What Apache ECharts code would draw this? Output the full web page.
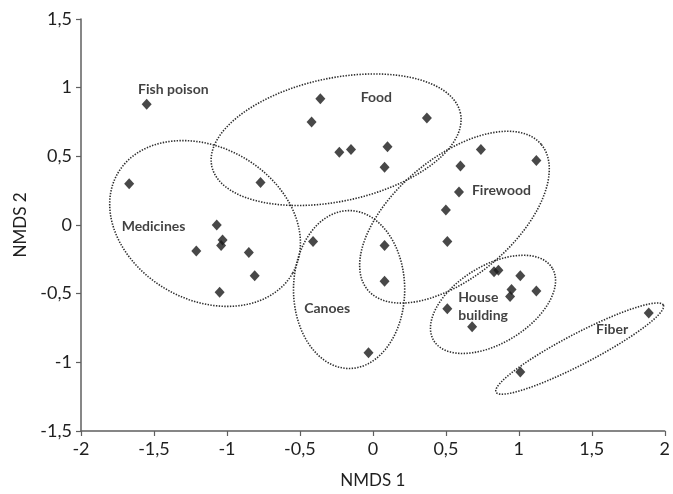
<!DOCTYPE html>
<html>
<head>
<meta charset="utf-8">
<script src="https://cdn.jsdelivr.net/npm/echarts@6/dist/echarts.min.js"></script>
<style>
html,body{margin:0;padding:0;background:#fff;}
#chart{width:673px;height:494px;}
</style>
</head>
<body>
<div id="chart"></div>
<script>
// ---- Data (NMDS scores of species, grouped by use category) ----
var fishPoison = [[-1.55, 0.88]];
var food = [[-0.36, 0.92], [-0.42, 0.75], [-0.23, 0.53], [-0.15, 0.55], [0.37, 0.78], [0.10, 0.57], [0.08, 0.42]];
var medicines = [[-1.67, 0.30], [-0.77, 0.31], [-1.07, 0.00], [-1.03, -0.11], [-1.04, -0.15], [-1.21, -0.19], [-0.85, -0.20], [-0.81, -0.37], [-1.05, -0.49]];
var canoes = [[-0.41, -0.12], [0.08, -0.15], [0.08, -0.41], [-0.03, -0.93]];
var firewood = [[0.74, 0.55], [1.12, 0.47], [0.60, 0.43], [0.59, 0.24], [0.50, 0.11], [0.51, -0.12]];
var houseBuilding = [[0.83, -0.34], [0.86, -0.33], [1.01, -0.37], [0.95, -0.47], [0.94, -0.52], [1.12, -0.48], [0.51, -0.61], [0.68, -0.74]];
var fiber = [[1.89, -0.64], [1.01, -1.07]];

// cluster outlines: [centerX, centerY, semiAxisA, semiAxisB (in NMDS 1 units), angle deg]
var clusterEllipses = [
  [-0.252, 0.621, 0.871, 0.422, 12],    // Food
  [-1.150, 0.011, 0.690, 0.523, -29.5], // Medicines
  [-0.163, -0.470, 0.381, 0.541, 0],    // Canoes
  [0.559, 0.057, 0.776, 0.408, 40],     // Firewood
  [0.823, -0.578, 0.476, 0.265, 31.6],  // House building
  [1.417, -0.900, 0.646, 0.105, 27.5]   // Fiber
];

// category labels: [name, x, y]
var clusterLabels = [
  ['Fish poison', -1.367, 0.99],
  ['Food', 0.024, 0.926],
  ['Medicines', -1.503, -0.014],
  ['Firewood', 0.881, 0.253],
  ['Canoes', -0.313, -0.61],
  ['House\nbuilding', 0.585, -0.596],
  ['Fiber', 1.639, -0.761]
];

var xTicks = {min: -2, max: 2, interval: 0.5};
var yTicks = {min: -1.5, max: 1.5, interval: 0.5};
var xName = 'NMDS 1';
var yName = 'NMDS 2';

// ---- Chart ----
var allPoints = [].concat(fishPoison, food, medicines, canoes, firewood, houseBuilding, fiber);
function fmt(v){ return String(v).replace('.', ','); }
var FONT = 'Lato, "Open Sans", sans-serif';

var chart = echarts.init(document.getElementById('chart'), null, {renderer: 'canvas'});
chart.setOption({
  animation: false,
  backgroundColor: '#fff',
  grid: {left: 81, right: 4, top: 19, bottom: 56, containLabel: false},
  xAxis: {
    type: 'value', min: xTicks.min, max: xTicks.max, interval: xTicks.interval,
    name: xName, nameLocation: 'middle', nameGap: 41,
    nameTextStyle: {fontFamily: FONT, fontSize: 17, color: '#1f1f1f'},
    axisLine: {onZero: false, lineStyle: {color: '#5f5f5f', width: 1.5}},
    axisTick: {show: true, inside: false, length: 5, lineStyle: {color: '#5f5f5f', width: 1.2}},
    axisLabel: {formatter: fmt, fontFamily: FONT, fontSize: 18, color: '#1f1f1f', margin: 9, showMinLabel: true, showMaxLabel: true, hideOverlap: false},
    splitLine: {show: false}
  },
  yAxis: {
    type: 'value', min: yTicks.min, max: yTicks.max, interval: yTicks.interval,
    name: yName, nameLocation: 'middle', nameGap: 51, nameRotate: 90,
    nameTextStyle: {fontFamily: FONT, fontSize: 17, color: '#1f1f1f'},
    axisLine: {onZero: false, lineStyle: {color: '#5f5f5f', width: 1.5}},
    axisTick: {show: true, inside: false, length: 5, lineStyle: {color: '#5f5f5f', width: 1.2}},
    axisLabel: {formatter: fmt, fontFamily: FONT, fontSize: 18, color: '#1f1f1f', margin: 9, showMinLabel: true, showMaxLabel: true},
    splitLine: {show: false}
  },
  series: [
    {
      type: 'custom',
      silent: true,
      z: 1,
      clip: false,
      data: clusterEllipses,
      encode: {x: 0, y: 1},
      renderItem: function (params, api) {
        var c = api.coord([api.value(0), api.value(1)]);
        var u = api.size([1, 1]);
        var a = api.value(2) * u[0], b = api.value(3) * u[0];
        var th = api.value(4) * Math.PI / 180;
        var pts = [];
        var n = 160;
        for (var i = 0; i < n; i++) {
          var t = i / n * 2 * Math.PI;
          var ex = a * Math.cos(t), ey = b * Math.sin(t);
          pts.push([c[0] + ex * Math.cos(th) - ey * Math.sin(th),
                    c[1] - (ex * Math.sin(th) + ey * Math.cos(th))]);
        }
        return {
          type: 'polygon',
          shape: {points: pts},
          style: {fill: 'none', stroke: '#2e2e2e', lineWidth: 1.6, lineDash: [1.4, 1.4]}
        };
      }
    },
    {
      type: 'scatter',
      z: 3,
      symbol: 'diamond',
      symbolSize: [10, 11],
      itemStyle: {color: '#1a1a1a'},
      data: allPoints
    },
    {
      type: 'scatter',
      z: 4,
      symbolSize: 0,
      silent: true,
      data: clusterLabels.map(function (d) {
        var item = {name: d[0], value: [d[1], d[2]]};
        if (d[0].indexOf('\n') >= 0) {
          item.label = {align: 'left'};
        }
        return item;
      }),
      label: {
        show: true,
        position: [0, 0],
        align: 'center',
        verticalAlign: 'middle',
        formatter: '{b}',
        fontFamily: FONT,
        fontWeight: 'bold',
        fontSize: 14,
        lineHeight: 18,
        color: '#111'
      }
    }
  ]
});
</script>
</body>
</html>
